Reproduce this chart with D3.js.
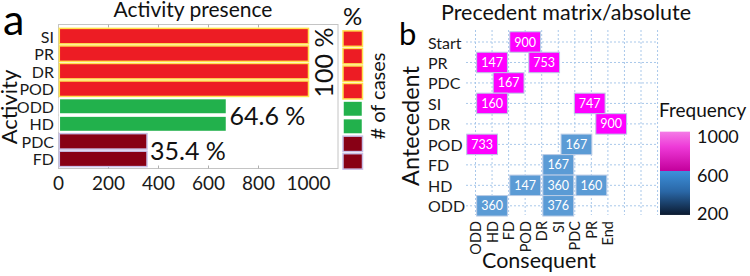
<!DOCTYPE html>
<html><head><meta charset="utf-8">
<script src="https://cdn.jsdelivr.net/npm/d3@7"></script>
<style>body{margin:0;background:#fff}svg{display:block;font-family:Lato,sans-serif}</style>
</head><body><svg id="c" width="750" height="276"></svg>
<script>
// ---- Panel a data ----
const activities = ["SI","PR","DR","POD","ODD","HD","PDC","FD"];
const caseCounts = [1000,1000,1000,1000,672,672,354,354];
const activityGroup = ["all","all","all","all","mid","mid","low","low"];
const pctGroups = ["all","mid","low"];
const pctText = ["100 %","64.6 %","35.4 %"];
const xTicks = [0,200,400,600,800,1000];

// ---- Panel b data ----
const antecedents = ["Start","PR","PDC","SI","DR","POD","FD","HD","ODD"];
const consequents = ["ODD","HD","FD","POD","DR","SI","PDC","PR","End"];
const gridColumnCount = 12;
const tileAntecedent = ["Start","PR","PR","PDC","SI","SI","DR","POD","POD","FD","HD","HD","HD","ODD","ODD"];
const tileConsequent = ["POD","HD","DR","FD","HD","PR","End","ODD","PDC","SI","POD","SI","PR","HD","SI"];
const tileShift      = [0,0,0.15,0,0,-0.1,0.2,0.4,0.1,0,0,0,0,0,0];
const tileValue      = [900,147,753,167,160,747,900,733,167,167,147,360,160,360,376];
const tileGroup      = ["hi","hi","hi","hi","hi","hi","hi","hi","lo","lo","lo","lo","lo","lo","lo"];
const legendTicks = [1000,600,200];

const svg = d3.select("#c");

// ================= Panel a =================
const groupFill = {all:"#ED1C24", mid:"#22B14C", low:"#880015"};
const groupStroke = {all:"#FFE14D", mid:"#FFFFFF", low:"#C8BFE7"};
const xA = d3.scaleLinear().domain([0,1118]).range([58.5,338]);
const yA = d3.scaleBand().domain(activities).range([27.5,167.5]).paddingInner(0.12).paddingOuter(0.05);
const yL = d3.scaleBand().domain(activities).range([30,170]).paddingInner(0.12).paddingOuter(0.05);

const gA = svg.append("g");
gA.append("rect").attr("x",xA.range()[0]).attr("y",24.5).attr("width",xA.range()[1]-xA.range()[0]).attr("height",144)
  .attr("fill","none").attr("stroke","#c4c4c4").attr("stroke-width",1);
gA.selectAll("line.tt").data(xTicks.slice(1,-1)).join("line")
  .attr("x1",d=>xA(d)).attr("x2",d=>xA(d)).attr("y1",24.5).attr("y2",27.5).attr("stroke","#b0b0b0");
gA.selectAll("line.tb").data(xTicks.slice(1,-1)).join("line")
  .attr("x1",d=>xA(d)).attr("x2",d=>xA(d)).attr("y1",165.5).attr("y2",168.5).attr("stroke","#b0b0b0");

gA.selectAll("rect.bar").data(activities).join("rect")
  .attr("x",xA(0)+0.8).attr("y",d=>yA(d))
  .attr("width",(d,i)=>xA(caseCounts[i])-xA(0)-0.8).attr("height",yA.bandwidth())
  .attr("fill",(d,i)=>groupFill[activityGroup[i]]).attr("stroke",(d,i)=>groupStroke[activityGroup[i]]).attr("stroke-width",1.5);

gA.selectAll("text.yl").data(activities).join("text")
  .attr("x",54).attr("y",d=>yA(d)+yA.bandwidth()/2).attr("text-anchor","end").attr("dominant-baseline","central")
  .attr("font-size",16).attr("fill","#1a1a1a").text(d=>d);

gA.selectAll("text.xt").data(xTicks).join("text")
  .attr("x",d=>xA(d)).attr("y",190).attr("text-anchor","middle").attr("font-size",19).attr("fill","#1a1a1a").text(d=>d);

pctGroups.forEach((g,k)=>{
  const idx = activityGroup.map((a,i)=>a===g?i:-1).filter(i=>i>=0);
  const top = yA(activities[idx[0]]), bot = yA(activities[idx[idx.length-1]])+yA.bandwidth();
  const xe = xA(caseCounts[idx[0]]);
  const cy = (top+bot)/2;
  if (k===0) {
    gA.append("text").attr("transform",`translate(${xe+24.5},${cy}) rotate(-90)`)
      .attr("text-anchor","middle").attr("font-size",25).attr("fill","#111").text(pctText[k]);
  } else {
    gA.append("text").attr("x",xe+3).attr("y",cy).attr("dominant-baseline","central")
      .attr("font-size",25).attr("fill","#111").text(pctText[k]);
  }
});

gA.append("text").attr("x",193).attr("y",16.5).attr("text-anchor","middle").attr("font-size",21).attr("fill","#111").text("Activity presence");
gA.append("text").attr("transform","translate(17,107) rotate(-90)").attr("text-anchor","middle").attr("font-size",22).attr("fill","#111").text("Activity");
gA.append("text").attr("x",3).attr("y",35).attr("font-size",43).attr("fill","#000").text("a");

gA.append("text").attr("x",352.5).attr("y",25).attr("text-anchor","middle").attr("font-size",24).attr("fill","#111").text("%");
gA.selectAll("rect.lg").data(activities).join("rect")
  .attr("x",343).attr("y",d=>yL(d)).attr("width",19.5).attr("height",yL.bandwidth())
  .attr("fill",(d,i)=>groupFill[activityGroup[i]]).attr("stroke",(d,i)=>groupStroke[activityGroup[i]]).attr("stroke-width",1.5);
gA.append("text").attr("transform","translate(385,96) rotate(-90)").attr("text-anchor","middle").attr("font-size",20).attr("fill","#111").text("# of cases");

// ================= Panel b =================
const gB = svg.append("g");
const colStep = 16.55;
const xB = d3.scaleLinear().domain([0,gridColumnCount-1]).range([475.5,475.5+colStep*(gridColumnCount-1)]);
const yB = d3.scalePoint().domain(antecedents).range([42,205.8]);
const rowStep = yB.step();
const tileW = colStep*1.86, tileH = rowStep;
const tileFill = {hi:"#FF00FF", lo:"#5B9BD5"};

gB.selectAll("line.vg").data(d3.range(gridColumnCount)).join("line")
  .attr("x1",d=>xB(d)).attr("x2",d=>xB(d)).attr("y1",30).attr("y2",215)
  .attr("stroke","#a9c8ea").attr("stroke-width",1).attr("stroke-dasharray","2,2");
gB.selectAll("line.hg").data(antecedents).join("line")
  .attr("x1",466).attr("x2",xB(gridColumnCount-1)).attr("y1",d=>yB(d)).attr("y2",d=>yB(d))
  .attr("stroke","#a9c8ea").attr("stroke-width",1).attr("stroke-dasharray","2,2");

const tiles = tileValue.map((v,i)=>({v, a:tileAntecedent[i], c:tileConsequent[i], s:tileShift[i], g:tileGroup[i]}));
const tx = d=>xB(consequents.indexOf(d.c)+d.s);
gB.selectAll("rect.tile").data(tiles).join("rect")
  .attr("x",d=>tx(d)-tileW/2).attr("y",d=>yB(d.a)-tileH/2).attr("width",tileW).attr("height",tileH)
  .attr("fill",d=>tileFill[d.g]).attr("stroke","#b9cbe6").attr("stroke-width",1);
gB.selectAll("text.tv").data(tiles).join("text")
  .attr("x",d=>tx(d)).attr("y",d=>yB(d.a)).attr("text-anchor","middle").attr("dominant-baseline","central")
  .attr("font-size",12.5).attr("fill","#fff").text(d=>d.v);

gB.selectAll("text.rl").data(antecedents).join("text")
  .attr("x",428).attr("y",d=>yB(d)).attr("dominant-baseline","central").attr("font-size",16).attr("fill","#1a1a1a").text(d=>d);
gB.selectAll("text.cl").data(consequents).join("text")
  .attr("transform",(d,i)=>`translate(${xB(i)},221) rotate(-90)`).attr("text-anchor","end").attr("dominant-baseline","central")
  .attr("font-size",14.5).attr("fill","#1a1a1a").text(d=>d);

gB.append("text").attr("x",566).attr("y",20).attr("text-anchor","middle").attr("font-size",21.5).attr("fill","#111").text("Precedent matrix/absolute");
gB.append("text").attr("x",539).attr("y",268).attr("text-anchor","middle").attr("font-size",21.5).attr("fill","#111").text("Consequent");
gB.append("text").attr("transform","translate(419,126) rotate(-90)").attr("text-anchor","middle").attr("font-size",23.5).attr("fill","#111").text("Antecedent");
gB.append("text").attr("x",399).attr("y",45).attr("font-size",31).attr("fill","#000").text("b");

// legend
const yC = d3.scaleLinear().domain([200,1000]).range([213.3,136]);
const barTop = yC(1045), barBot = yC(183);
const split = yC(640);
const defs = svg.append("defs");
const lg = defs.append("linearGradient").attr("id","freq").attr("x1",0).attr("x2",0).attr("y1",0).attr("y2",1);
const off = y=>(y-barTop)/(barBot-barTop);
[[0,"#f47be6"],[0.18,"#ee3ad8"],[off(split)-0.001,"#c4009c"],[off(split),"#3e91dc"],[0.72,"#2a67a6"],[1,"#0b1a30"]]
  .forEach(([o,c])=>lg.append("stop").attr("offset",o).attr("stop-color",c));
gB.append("rect").attr("x",660).attr("y",barTop).attr("width",30).attr("height",barBot-barTop).attr("fill","url(#freq)");
gB.selectAll("text.lt").data(legendTicks).join("text")
  .attr("x",697).attr("y",d=>yC(d)).attr("dominant-baseline","central").attr("font-size",18).attr("fill","#111").text(d=>d);
gB.append("text").attr("x",659).attr("y",116.5).attr("font-size",19).attr("fill","#111").text("Frequency");
</script></body></html>
